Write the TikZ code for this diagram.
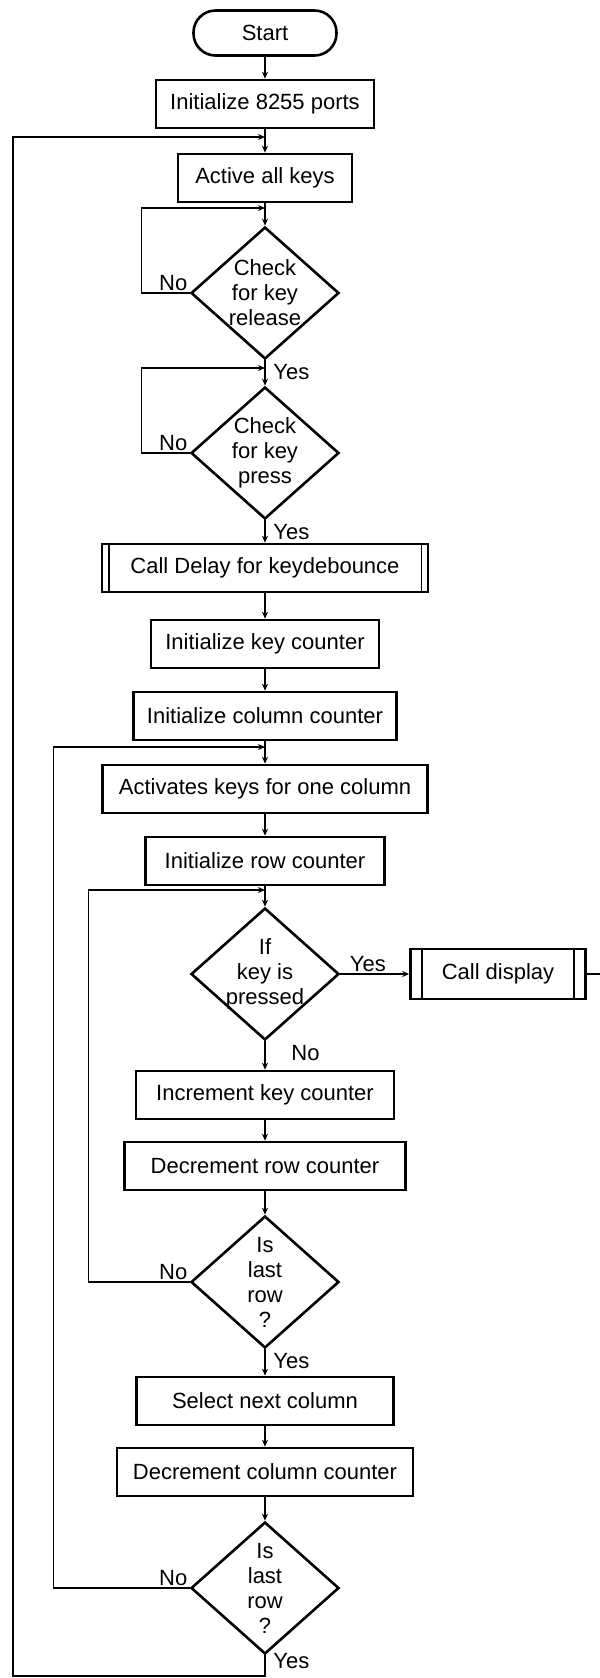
\documentclass[tikz,border=0pt]{standalone}
\usepackage{fontspec}
\setmainfont{Liberation Sans}
\usetikzlibrary{shapes.geometric,positioning,arrows.meta}
\tikzset{>={Stealth[length=3.5pt,width=3pt]}}

\begin{document}
\begin{tikzpicture}[x=0.5pt,y=-0.5pt,font=\fontsize{11}{12.5}\selectfont,
  procbox/.style={draw, line width=1.3pt, minimum height=24pt, inner sep=0pt},
  termbox/.style={draw, line width=1.3pt, rounded corners=11pt, minimum height=22.5pt, inner sep=0pt},
  decision/.style={draw, diamond, line width=1.3pt, inner sep=-6pt, minimum width=74pt, minimum height=66pt, align=center},
  flow/.style={line width=0.7pt},
  lbl/.style={inner sep=1pt}]
\useasboundingbox (0,0) rectangle (600,1678);
% boxes
\node[termbox, minimum width=71.5pt] (start) at (265,33) {Start};
\node[procbox, minimum width=109pt] (init) at (265,104) {Initialize 8255 ports};
\node[procbox, minimum width=87pt] (keys) at (265,178) {Active all keys};
\node[decision] (chkrel) at (265,293) {Check\\for key\\release};
\node[decision] (chkpress) at (265,453) {Check\\for key\\press};
\node[procbox, minimum width=163pt] (delay) at (265,568) {Call Delay for keydebounce};
\node[procbox, minimum width=114pt] (keyctr) at (265,644) {Initialize key counter};
\node[procbox, minimum width=131.5pt] (colctr) at (265,716) {Initialize column counter};
\node[procbox, minimum width=162.5pt] (actcol) at (265,789) {Activates keys for one column};
\node[procbox, minimum width=119.5pt] (rowctr) at (265,861) {Initialize row counter};
\node[decision] (ifkey) at (265,974) {If\\key is\\pressed};
\node[procbox, minimum width=87.5pt, minimum height=25pt] (display) at (498,974) {Call display};
\node[procbox, minimum width=129pt] (inckey) at (265,1095) {Increment key counter};
\node[procbox, minimum width=140.5pt] (decrow) at (265,1166) {Decrement row counter};
\node[decision] (lastrow) at (265,1282) {Is\\last\\row\\?};
\node[procbox, minimum width=128.5pt] (nextcol) at (265,1401) {Select next column};
\node[procbox, minimum width=148pt] (deccol) at (265,1472) {Decrement column counter};
\node[decision] (lastcol) at (265,1588) {Is\\last\\row\\?};
% subroutine bars
\draw[line width=0.8pt] ([xshift=4pt]delay.north west) -- ([xshift=4pt]delay.south west);
\draw[line width=0.8pt] ([xshift=-4pt]delay.north east) -- ([xshift=-4pt]delay.south east);
\draw[line width=0.8pt] ([xshift=6.5pt]display.north west) -- ([xshift=6.5pt]display.south west);
\draw[line width=0.8pt] ([xshift=-6.5pt]display.north east) -- ([xshift=-6.5pt]display.south east);
% joins
\coordinate (topin) at (265,137);
\coordinate (j1) at (265,208);
\coordinate (j2) at (265,368);
\coordinate (j4) at (265,747);
\coordinate (j3) at (265,890);
\coordinate (bot) at (265,1676);
\coordinate (outer) at (13,1676);
\coordinate (dispout) at (600,974);
% flow
\draw[flow,->] (start) -- (init);
\draw[flow,->] (init) -- (keys);
\draw[flow,->] (keys) -- (chkrel);
\draw[flow,->] (chkrel) -- (chkpress);
\draw[flow,->] (chkpress) -- (delay);
\draw[flow,->] (delay) -- (keyctr);
\draw[flow,->] (keyctr) -- (colctr);
\draw[flow,->] (colctr) -- (actcol);
\draw[flow,->] (actcol) -- (rowctr);
\draw[flow,->] (rowctr) -- (ifkey);
\draw[flow,->] (ifkey) -- node[lbl, above, pos=0.4] (yes3) {Yes} (display);
\draw[flow] (display) -- (dispout);
\draw[flow,->] (ifkey) -- (inckey);
\draw[flow,->] (inckey) -- (decrow);
\draw[flow,->] (decrow) -- (lastrow);
\draw[flow,->] (lastrow) -- (nextcol);
\draw[flow,->] (nextcol) -- (deccol);
\draw[flow,->] (deccol) -- (lastcol);
% loops
\draw[flow,->] (chkrel.west) -- ++(-48,0) |- (j1);
\draw[flow,->] (chkpress.west) -- ++(-48,0) |- (j2);
\draw[flow,->] (lastrow.west) -- ++(-101,0) |- (j3);
\draw[flow,->] (lastcol.west) -- ++(-136,0) |- (j4);
\draw[flow,->] (lastcol) -- (bot) -- (outer) |- (topin);
% labels
\node[lbl, anchor=south east] (no1) at (chkrel.west) {No};
\node[lbl, below right=1pt and 3pt of chkrel.south] (yes1) {Yes};
\node[lbl, anchor=south east] (no2) at (chkpress.west) {No};
\node[lbl, below right=1pt and 3pt of chkpress.south] (yes2) {Yes};
\node[lbl, below right=1pt and 12pt of ifkey.south] (no3) {No};
\node[lbl, anchor=south east] (no4) at (lastrow.west) {No};
\node[lbl, below right=1pt and 3pt of lastrow.south] (yes4) {Yes};
\node[lbl, anchor=south east] (no5) at (lastcol.west) {No};
\node[lbl, below right=-2pt and 3pt of lastcol.south] (yes5) {Yes};
\end{tikzpicture}
\end{document}
